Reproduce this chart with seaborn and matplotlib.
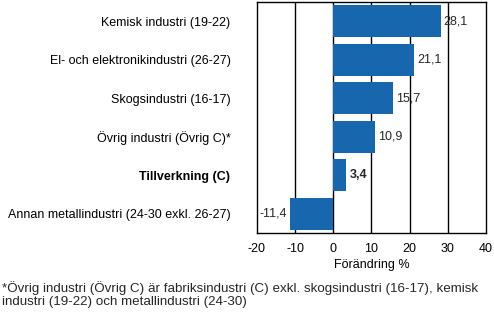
import matplotlib
matplotlib.use("Agg")
import matplotlib.pyplot as plt
import seaborn as sns
import pandas as pd

categories = [
    "Kemisk industri (19-22)",
    "El- och elektronikindustri (26-27)",
    "Skogsindustri (16-17)",
    "Övrig industri (Övrig C)*",
    "Tillverkning (C)",
    "Annan metallindustri (24-30 exkl. 26-27)",
]
values = [28.1, 21.1, 15.7, 10.9, 3.4, -11.4]
value_labels = ["28,1", "21,1", "15,7", "10,9", "3,4", "-11,4"]
bold_index = 4
x_ticks = [-20, -10, 0, 10, 20, 30, 40]
xlabel = "Förändring %"
footnote = ("*Övrig industri (Övrig C) är fabriksindustri (C) exkl. skogsindustri (16-17), kemisk\n"
            "industri (19-22) och metallindustri (24-30)")

sns.set_theme(style="white")
plt.rcParams["font.family"] = ["Liberation Sans", "DejaVu Sans"]

df = pd.DataFrame({"cat": categories, "val": values})

fig = plt.figure(figsize=(4.94, 3.15), dpi=100)
ax = fig.add_axes([0.520, 0.260, 0.464, 0.734])
sns.barplot(data=df, x="val", y="cat", orient="h", color="#1767AF",
            saturation=1, width=0.83, linewidth=0, ax=ax, zorder=3)
ax.set_xlim(-20, 40)
ax.set_xticks(x_ticks)
ax.set_xticklabels([str(t) for t in x_ticks], fontsize=9, color="black")
ax.set_xlabel(xlabel, fontsize=9, color="black", labelpad=3)
ax.set_ylabel("")
ax.tick_params(axis="x", direction="out", length=4, width=1, color="black", pad=3)
ax.tick_params(axis="y", length=0, pad=19)
for i, lab in enumerate(ax.get_yticklabels()):
    lab.set_fontsize(9)
    lab.set_color("black")
    if i == bold_index:
        lab.set_fontweight("bold")
for t in x_ticks[1:-1]:
    ax.axvline(t, color="black", lw=1, zorder=1)
for s in ax.spines.values():
    s.set_color("black")
    s.set_linewidth(1)
    s.set_visible(True)

for i, (v, lab) in enumerate(zip(values, value_labels)):
    fw = "bold" if i == bold_index else "normal"
    if v >= 0:
        ax.text(v + 0.8, i, lab, va="center", ha="left", fontsize=9, fontweight=fw, zorder=5)
    else:
        ax.text(v - 0.8, i, lab, va="center", ha="right", fontsize=9, fontweight=fw, zorder=5)

fig.text(0.004, 0.108, footnote, fontsize=9.6, va="top", ha="left", linespacing=1.15)
fig.savefig("out.png", dpi=100)
